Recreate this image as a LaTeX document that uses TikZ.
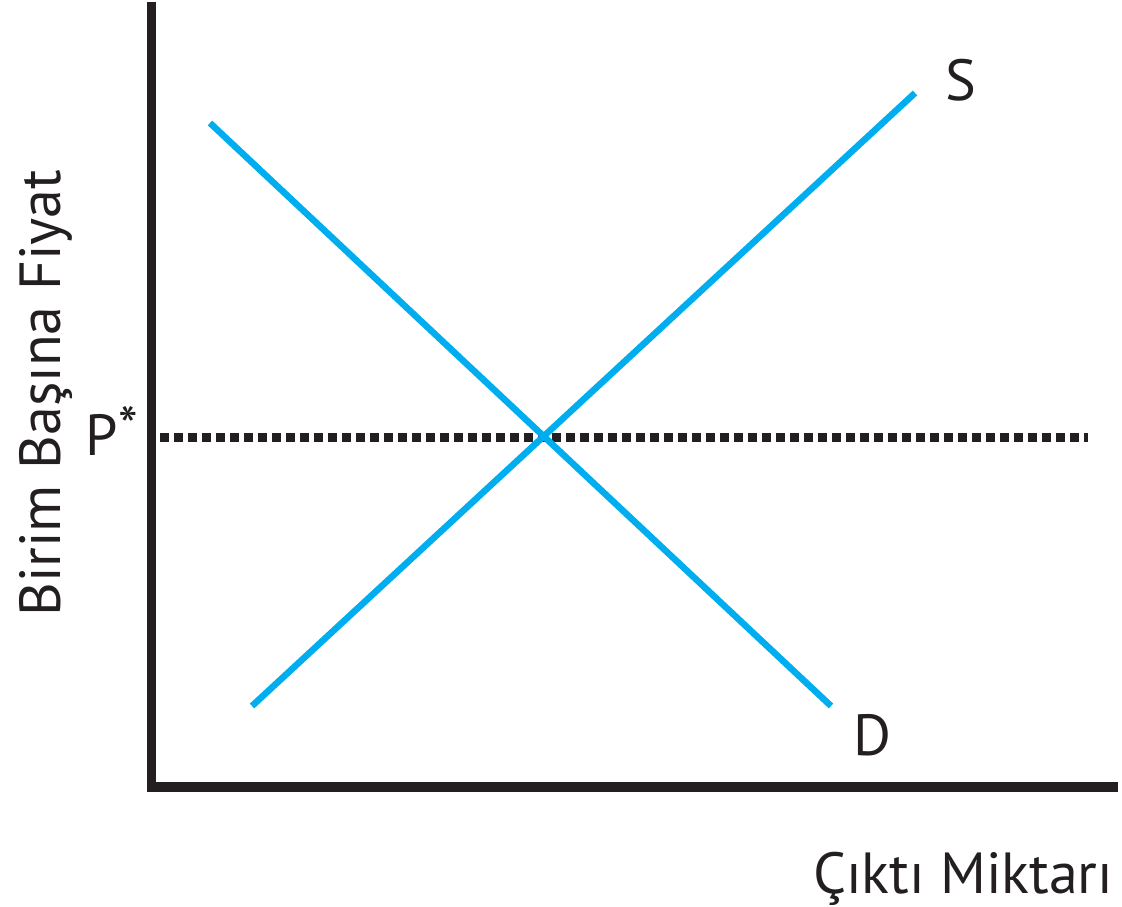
\documentclass[tikz,border=0pt]{standalone}
\usepackage{fontspec}
\setmainfont{PT Sans}
\definecolor{axisblack}{HTML}{231F20}
\definecolor{curveblue}{HTML}{00AEEF}
\begin{document}
\begin{tikzpicture}[x=1pt,y=-1pt,
  axis/.style={draw=axisblack,line width=9.5pt},
  curve/.style={draw=curveblue,line width=6.5pt},
  pline/.style={draw=axisblack,line width=9pt,dash pattern=on 9pt off 5pt},
  lbl/.style={inner sep=0pt,text=axisblack,font=\fontsize{58}{60}\selectfont}]
\useasboundingbox (0,0) rectangle (1122,907);
\coordinate (top) at (151.5,2);
\coordinate (origin) at (151.5,787);
\coordinate (xend) at (1118,787);
\draw[axis] (top) -- (origin |- 0,791.75) ;
\draw[axis] (147,787) -- (xend);
\coordinate (pl) at (160,437);
\coordinate (pr) at (1088,437);
\draw[pline] (pl) -- (pr);
\coordinate (s1) at (252,706);
\coordinate (s2) at (915,93);
\coordinate (d1) at (210,123);
\coordinate (d2) at (831,706);
\draw[curve] (s1) -- (s2);
\draw[curve] (d1) -- (d2);
\node[lbl,anchor=base west] (S) at (945,100) {S};
\node[lbl,anchor=base west] (D) at (853,755) {D};
\node[lbl,anchor=base west] (P) at (85,455) {P\kern1pt\raisebox{9pt}{\fontsize{56}{56}\selectfont *}};
\node[lbl,anchor=base west] (xl) at (813,893) {Çıktı Miktarı};
\node[lbl,anchor=base west,rotate=90] (yl) at (60,617) {Birim Başına Fiyat};
\end{tikzpicture}
\end{document}
